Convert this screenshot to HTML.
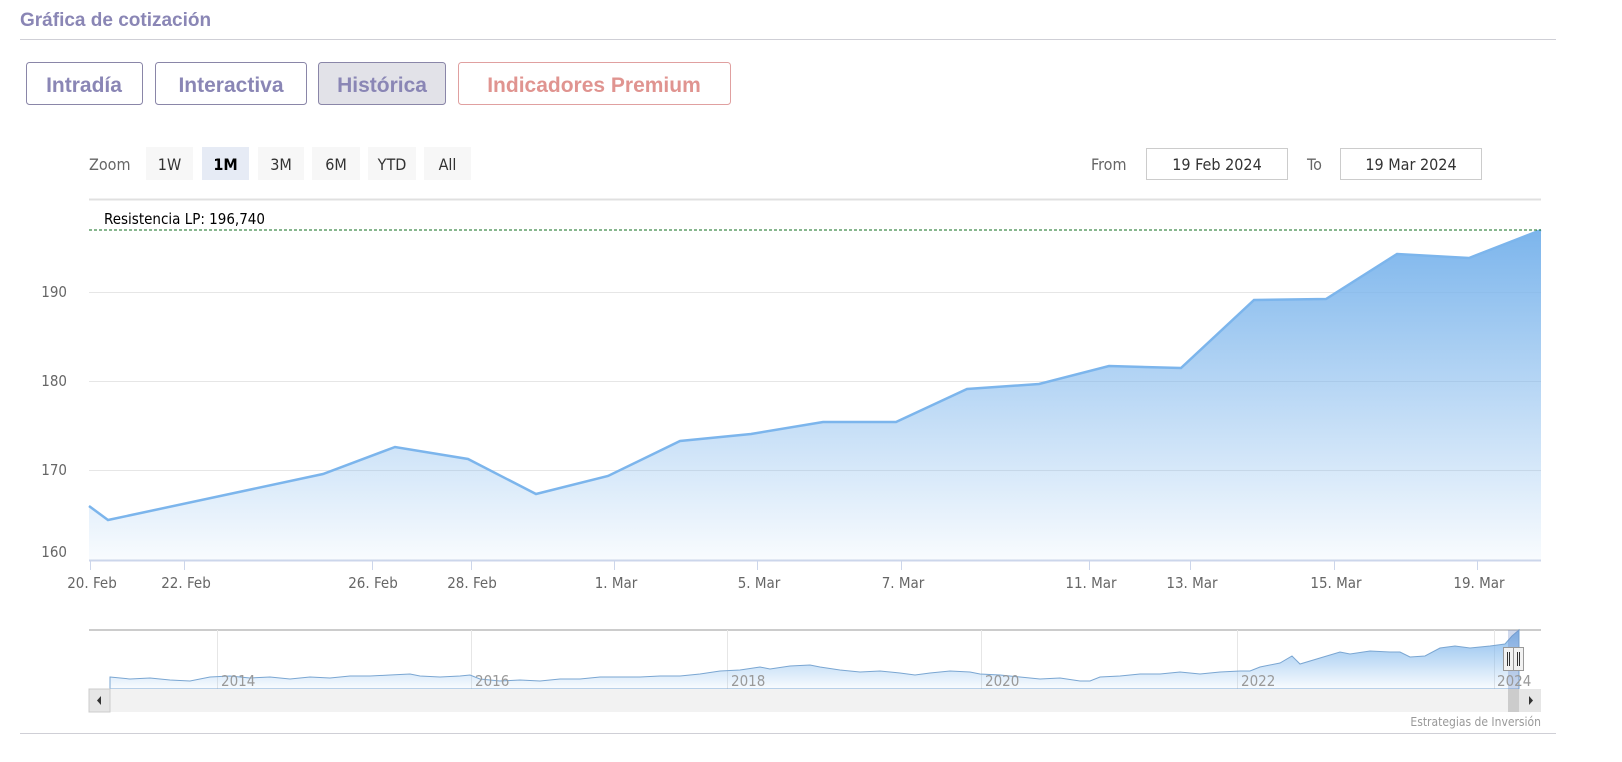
<!DOCTYPE html>
<html><head><meta charset="utf-8"><style>
html,body{margin:0;padding:0;background:#fff;width:1622px;height:762px;overflow:hidden}
svg{display:block}
.t{font-family:"DejaVu Sans Condensed","DejaVu Sans","Liberation Sans",sans-serif}
.p{font-family:"Liberation Sans",sans-serif;font-weight:bold}
</style></head><body>
<svg width="1622" height="762" viewBox="0 0 1622 762" xmlns="http://www.w3.org/2000/svg">
<defs>
<linearGradient id="g" x1="0" y1="0" x2="0" y2="1"><stop offset="0" stop-color="#7cb5ec"/><stop offset="1" stop-color="#7cb5ec" stop-opacity="0.05"/></linearGradient>
<linearGradient id="g2" x1="0" y1="0" x2="0" y2="1"><stop offset="0" stop-color="#7cb5ec" stop-opacity="0.9"/><stop offset="1" stop-color="#7cb5ec" stop-opacity="0.05"/></linearGradient>
</defs>
<text x="20" y="26" class="p" font-size="19" fill="#8a86b5">Gráfica de cotización</text>
<line x1="20" y1="39.5" x2="1556" y2="39.5" stroke="#cfcfd6"/>
<rect x="26.5" y="62.5" width="116" height="42" rx="3" fill="#fff" stroke="#8a86a8"/>
<text x="84" y="92" class="p" font-size="21" fill="#8a86b5" text-anchor="middle">Intradía</text>
<rect x="155.5" y="62.5" width="151" height="42" rx="3" fill="#fff" stroke="#8a86a8"/>
<text x="231" y="92" class="p" font-size="21" fill="#8a86b5" text-anchor="middle">Interactiva</text>
<rect x="318.5" y="62.5" width="127" height="42" rx="3" fill="#e2e2e8" stroke="#8a86a8"/>
<text x="382" y="92" class="p" font-size="21" fill="#8a86b5" text-anchor="middle">Histórica</text>
<rect x="458.5" y="62.5" width="272" height="42" rx="3" fill="#fff" stroke="#e0a0a0"/>
<text x="594" y="92" class="p" font-size="21" fill="#e09490" text-anchor="middle">Indicadores Premium</text>
<g class="t" font-size="16" fill="#333">
<text x="89" y="170" fill="#666">Zoom</text>
<rect x="146" y="147" width="47" height="33" fill="#f7f7f7"/><text x="169.5" y="170" text-anchor="middle">1W</text>
<rect x="202" y="147" width="47" height="33" fill="#e6ebf5"/><text x="225.5" y="170" text-anchor="middle" font-weight="bold" fill="#000">1M</text>
<rect x="258" y="147" width="46" height="33" fill="#f7f7f7"/><text x="281" y="170" text-anchor="middle">3M</text>
<rect x="312" y="147" width="48" height="33" fill="#f7f7f7"/><text x="336" y="170" text-anchor="middle">6M</text>
<rect x="368" y="147" width="48" height="33" fill="#f7f7f7"/><text x="392" y="170" text-anchor="middle">YTD</text>
<rect x="424" y="147" width="47" height="33" fill="#f7f7f7"/><text x="447.5" y="170" text-anchor="middle">All</text>
<text x="1091" y="170" fill="#666">From</text>
<rect x="1146.5" y="148.5" width="141" height="31" fill="#fff" stroke="#ccc"/><text x="1217" y="170" text-anchor="middle">19 Feb 2024</text>
<text x="1307" y="170" fill="#666">To</text>
<rect x="1340.5" y="148.5" width="141" height="31" fill="#fff" stroke="#ccc"/><text x="1411" y="170" text-anchor="middle">19 Mar 2024</text>
</g>
<line x1="89" y1="199.5" x2="1541" y2="199.5" stroke="#e0e0e0" stroke-width="2"/>
<g stroke="#e6e6e6"><line x1="89" y1="292.5" x2="1541" y2="292.5"/><line x1="89" y1="381.5" x2="1541" y2="381.5"/><line x1="89" y1="470.5" x2="1541" y2="470.5"/></g>
<path d="M89,506 L108,520 L323,474 L395,447 L468,459 L536,494 L608,476 L680,441 L751,434 L823,422 L896,422 L967,389 L1039,384 L1109,366 L1181,368 L1254,300 L1326,299 L1397,254 L1469,258 L1541,230 L1541,560 L89,560 Z" fill="url(#g)"/>
<path d="M89,506 L108,520 L323,474 L395,447 L468,459 L536,494 L608,476 L680,441 L751,434 L823,422 L896,422 L967,389 L1039,384 L1109,366 L1181,368 L1254,300 L1326,299 L1397,254 L1469,258 L1541,230" fill="none" stroke="#7cb5ec" stroke-width="2.5"/>
<line x1="89" y1="230" x2="1541" y2="230" stroke="#0f6e1e" stroke-dasharray="3,2"/>
<text x="104" y="224" class="t" font-size="15" fill="#000">Resistencia LP: 196,740</text>
<g class="t" font-size="15" fill="#666" text-anchor="end">
<text x="67" y="297">190</text><text x="67" y="386">180</text><text x="67" y="475">170</text><text x="67" y="557">160</text>
</g>
<line x1="89" y1="560.5" x2="1541" y2="560.5" stroke="#ccd6eb" stroke-width="2"/>
<g stroke="#ccd6eb"><line x1="90.5" y1="560" x2="90.5" y2="570"/><line x1="184.5" y1="560" x2="184.5" y2="570"/><line x1="372.5" y1="560" x2="372.5" y2="570"/><line x1="471.5" y1="560" x2="471.5" y2="570"/><line x1="614.5" y1="560" x2="614.5" y2="570"/><line x1="757.5" y1="560" x2="757.5" y2="570"/><line x1="901.5" y1="560" x2="901.5" y2="570"/><line x1="1089.5" y1="560" x2="1089.5" y2="570"/><line x1="1190.5" y1="560" x2="1190.5" y2="570"/><line x1="1334.5" y1="560" x2="1334.5" y2="570"/><line x1="1477.5" y1="560" x2="1477.5" y2="570"/></g>
<g class="t" font-size="15" fill="#666" text-anchor="middle">
<text x="92" y="588">20. Feb</text><text x="186" y="588">22. Feb</text><text x="373" y="588">26. Feb</text><text x="472" y="588">28. Feb</text><text x="616" y="588">1. Mar</text><text x="759" y="588">5. Mar</text><text x="903" y="588">7. Mar</text><text x="1091" y="588">11. Mar</text><text x="1192" y="588">13. Mar</text><text x="1336" y="588">15. Mar</text><text x="1479" y="588">19. Mar</text>
</g>
<line x1="89" y1="630" x2="1541" y2="630" stroke="#ccc" stroke-width="2"/>
<g stroke="#e6e6e6"><line x1="217.5" y1="630" x2="217.5" y2="689"/><line x1="471.5" y1="630" x2="471.5" y2="689"/><line x1="727.5" y1="630" x2="727.5" y2="689"/><line x1="981.5" y1="630" x2="981.5" y2="689"/><line x1="1237.5" y1="630" x2="1237.5" y2="689"/><line x1="1494.5" y1="630" x2="1494.5" y2="689"/></g>
<path d="M110,677 L130,679 L150,678 L170,680 L190,681 L210,677 L230,676 L250,678 L270,677 L290,679 L310,677 L330,678 L350,676 L370,676 L390,675 L410,674 L420,676 L440,677 L460,676 L470,675 L480,679 L500,681 L520,680 L540,681 L560,679 L580,679 L600,677 L620,677 L640,677 L660,676 L680,676 L700,674 L720,671 L740,670 L760,667 L770,669 L790,666 L810,665 L820,667 L840,670 L860,672 L880,671 L900,673 L915,675 L930,673 L950,671 L970,672 L980,674 L1000,675 L1020,677 L1040,679 L1060,678 L1080,681 L1090,681 L1100,677 L1120,676 L1140,674 L1160,674 L1180,672 L1200,674 L1220,672 L1240,671 L1250,671 L1260,667 L1280,663 L1292,656 L1300,664 L1320,658 L1340,652 L1350,654 L1370,651 L1390,652 L1400,652 L1410,657 L1425,656 L1440,648 L1455,646 L1470,648 L1490,646 L1505,644 L1512,636 L1519,630 L1519,689 L110,689 Z" fill="url(#g2)" stroke="#7aa6d2" stroke-width="1"/>
<rect x="1508" y="630" width="11" height="59" fill="#6685c2" fill-opacity="0.3"/>
<g class="t" font-size="15" fill="#999">
<text x="221" y="686">2014</text><text x="475" y="686">2016</text><text x="731" y="686">2018</text><text x="985" y="686">2020</text><text x="1241" y="686">2022</text><text x="1497" y="686">2024</text>
</g>
<rect x="1503.5" y="647.5" width="10" height="23" fill="#f2f2f2" stroke="#999"/><rect x="1513.5" y="647.5" width="10" height="23" fill="#f2f2f2" stroke="#999"/>
<g stroke="#333"><line x1="1507.5" y1="652" x2="1507.5" y2="666"/><line x1="1509.5" y1="652" x2="1509.5" y2="666"/><line x1="1517.5" y1="652" x2="1517.5" y2="666"/><line x1="1519.5" y1="652" x2="1519.5" y2="666"/></g>
<rect x="89" y="689" width="1452" height="23" fill="#f2f2f2"/>
<rect x="89" y="689" width="21" height="23" fill="#e6e6e6" stroke="#ccc"/>
<path d="M101,696 L101,705 L97,700.5 Z" fill="#333"/>
<rect x="1508" y="689" width="11" height="23" fill="#ccc"/>
<rect x="1519" y="689" width="22" height="23" fill="#e6e6e6"/>
<path d="M1529,696 L1529,705 L1533,700.5 Z" fill="#333"/>
<text x="1541" y="726" class="t" font-size="12" fill="#999" text-anchor="end">Estrategias de Inversión</text>
<line x1="20" y1="733.5" x2="1556" y2="733.5" stroke="#cfcfd6"/>
</svg>
</body></html>
